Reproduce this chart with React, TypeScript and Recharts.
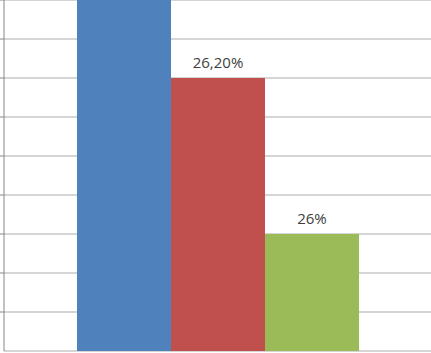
import { BarChart, Bar, XAxis, YAxis, CartesianGrid, LabelList } from 'recharts';

const categories = ['Total'];
const seriesNames = ['Serie 1', 'Serie 2', 'Serie 3'];
const seriesValues = [26.4, 26.2, 26.0];
// blue bar's label sits above the visible area in the reference, so it's left empty
const seriesLabels = ['', '26,20%', '26%'];
const seriesColors = ['#4f81bd', '#c0504d', '#9bbb59'];
const yTicks = [25.85, 25.9, 25.95, 26.0, 26.05, 26.1, 26.15, 26.2, 26.25, 26.3];

const data = categories.map((name) => {
  const row: Record<string, string | number> = { name };
  seriesNames.forEach((_, i) => {
    row['s' + i] = seriesValues[i];
    row['l' + i] = seriesLabels[i];
  });
  return row;
});

export default function App() {
  return (
    <div style={{ position: 'absolute', left: 0, top: 0, background: '#fff' }}>
      <BarChart
        width={431}
        height={353}
        data={data}
        margin={{ top: 0, right: 0, bottom: 2, left: 0 }}
        barGap={0}
      >
        <CartesianGrid vertical={false} stroke="#ababab" />
        <XAxis dataKey="name" hide />
        <YAxis
          width={4}
          domain={[25.85, 26.3]}
          ticks={yTicks}
          allowDataOverflow
          tickSize={4}
          axisLine={{ stroke: '#868686' }}
          tickLine={{ stroke: '#868686' }}
          tick={() => <g />}
        />
        {seriesNames.map((s, i) => (
          <Bar
            key={s}
            name={s}
            dataKey={'s' + i}
            fill={seriesColors[i]}
            barSize={94}
            isAnimationActive={false}
          >
            <LabelList
              dataKey={'l' + i}
              position="top"
              offset={10}
              style={{ fontFamily: '"Open Sans", sans-serif', fontSize: 15, fill: '#404040' }}
            />
          </Bar>
        ))}
      </BarChart>
    </div>
  );
}
